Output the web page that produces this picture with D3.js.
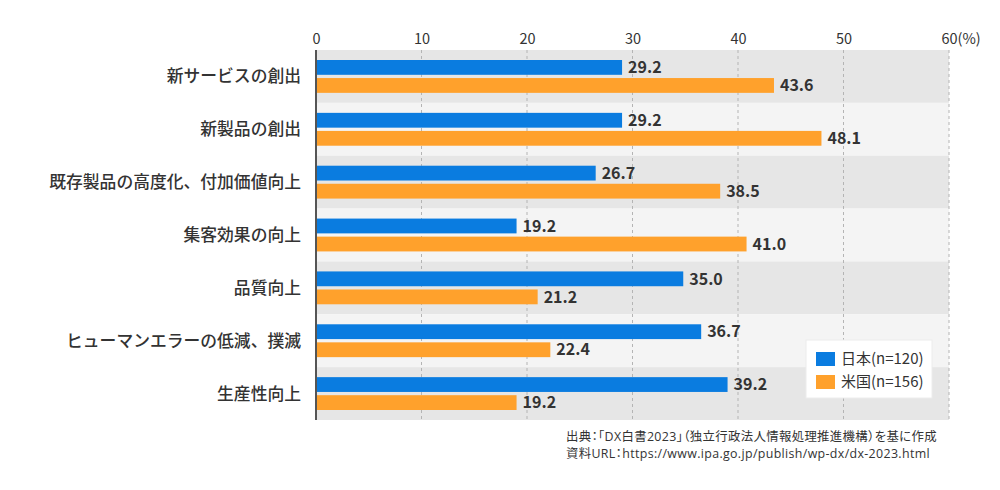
<!DOCTYPE html>
<html>
<head>
<meta charset="utf-8">
<script src="https://cdn.jsdelivr.net/npm/d3@7"></script>
<style>
  body { margin: 0; background: #fff; }
  svg { display: block; font-family: "Noto Sans CJK JP", "Noto Sans", sans-serif; }
  .src { font-feature-settings: "palt" 1; font-family: "Open Sans", "Noto Sans CJK JP", sans-serif; letter-spacing: 0.35px; }
</style>
</head>
<body>
<div id="chart"></div>
<script>
const categories = [
  '新サービスの創出',
  '新製品の創出',
  '既存製品の高度化、付加価値向上',
  '集客効果の向上',
  '品質向上',
  'ヒューマンエラーの低減、撲滅',
  '生産性向上',
];
const seriesNames = ['日本(n=120)', '米国(n=156)'];
const japan = [29.2, 29.2, 26.7, 19.2, 35.0, 36.7, 39.2];
const usa = [43.6, 48.1, 38.5, 41.0, 21.2, 22.4, 19.2];
const xTicks = [0, 10, 20, 30, 40, 50, 60];
const sourceLines = [
  '出典：「DX白書2023」（独立行政法人情報処理推進機構）を基に作成',
  '資料URL：https://www.ipa.go.jp/publish/wp-dx/dx-2023.html',
];

const width = 1000;
const height = 490;
const margin = { top: 50, right: 51, bottom: 70, left: 316 };
const colors = ['#0a7ce0', '#ffa12c'];

const svg = d3.select('#chart')
  .append('svg')
  .attr('width', width)
  .attr('height', height);

const g = svg.append('g')
  .attr('transform', `translate(${margin.left},${margin.top})`);

const innerW = width - margin.left - margin.right;
const innerH = height - margin.top - margin.bottom;

const x = d3.scaleLinear().domain([0, 60]).range([0, innerW]);
const y = d3.scaleBand().domain(categories).range([0, innerH]).padding(0);
const ySub = d3.scaleBand()
  .domain(d3.range(seriesNames.length))
  .range([10, y.bandwidth() - 10])
  .paddingInner(0.18);

// row backgrounds
g.selectAll('rect.row')
  .data(categories)
  .enter()
  .append('rect')
  .attr('class', 'row')
  .attr('x', 0)
  .attr('y', (d) => y(d))
  .attr('width', innerW)
  .attr('height', y.bandwidth())
  .attr('fill', (d, i) => (i % 2 === 0 ? '#e6e6e6' : '#f4f4f4'));

// grid
g.selectAll('line.grid')
  .data(xTicks.slice(1))
  .enter()
  .append('line')
  .attr('x1', (d) => x(d))
  .attr('x2', (d) => x(d))
  .attr('y1', 0)
  .attr('y2', innerH)
  .attr('stroke', '#b4b4b4')
  .attr('stroke-width', 1)
  .attr('stroke-dasharray', '3,3');

// top axis
const axis = g.append('g')
  .call(d3.axisTop(x).tickValues(xTicks).tickSize(0).tickPadding(0));
axis.select('.domain').remove();
axis.selectAll('text')
  .attr('y', -6)
  .attr('font-size', 14.5)
  .attr('fill', '#333')
  .attr('font-family', '"Noto Sans CJK JP", sans-serif');

const lastTick = axis.selectAll('.tick').filter((d) => d === 60);
const lastW = lastTick.select('text').node().getComputedTextLength();
lastTick.append('text')
  .attr('x', lastW / 2)
  .attr('y', -6)
  .attr('text-anchor', 'start')
  .attr('font-size', 14.5)
  .attr('fill', '#333')
  .attr('font-family', '"Noto Sans CJK JP", sans-serif')
  .text('(%)');

// bars
const rows = categories.map((c, i) => ({ cat: c, values: [japan[i], usa[i]] }));
const rowG = g.selectAll('g.bars')
  .data(rows)
  .enter()
  .append('g')
  .attr('transform', (d) => `translate(0,${y(d.cat)})`);

rowG.selectAll('rect')
  .data((d) => d.values.map((v, k) => ({ v, k })))
  .enter()
  .append('rect')
  .attr('x', 0)
  .attr('y', (d) => ySub(d.k))
  .attr('width', (d) => x(d.v) - 2)
  .attr('height', ySub.bandwidth())
  .attr('fill', (d) => colors[d.k]);

rowG.selectAll('text')
  .data((d) => d.values.map((v, k) => ({ v, k })))
  .enter()
  .append('text')
  .attr('x', (d) => x(d.v) + 4)
  .attr('y', (d) => ySub(d.k) + ySub.bandwidth() / 2)
  .attr('dy', '0.36em')
  .attr('font-size', 16)
  .attr('font-weight', 'bold')
  .attr('fill', '#333')
  .text((d) => d.v.toFixed(1));

// axis line
g.append('line')
  .attr('x1', 0)
  .attr('x2', 0)
  .attr('y1', 0)
  .attr('y2', innerH)
  .attr('stroke', '#555')
  .attr('stroke-width', 2);

// category labels
g.selectAll('text.cat')
  .data(categories)
  .enter()
  .append('text')
  .attr('class', 'cat')
  .attr('x', -15)
  .attr('y', (d) => y(d) + y.bandwidth() / 2)
  .attr('dy', '0.36em')
  .attr('text-anchor', 'end')
  .attr('font-size', 16.8)
  .attr('font-weight', 500)
  .attr('fill', '#333')
  .text((d) => d);

// legend
const legend = svg.append('g').attr('transform', 'translate(806,340)');
legend.append('rect')
  .attr('width', 126)
  .attr('height', 58)
  .attr('fill', '#fff')
  .attr('stroke', '#ececec');
seriesNames.forEach((name, k) => {
  legend.append('rect')
    .attr('x', 10)
    .attr('y', 12 + k * 23)
    .attr('width', 19)
    .attr('height', 14)
    .attr('fill', colors[k]);
  legend.append('text')
    .attr('x', 35)
    .attr('y', 19 + k * 23)
    .attr('dy', '0.36em')
    .attr('font-size', 15)
    .attr('fill', '#333')
    .text(name);
});

// source
svg.selectAll('text.src')
  .data(sourceLines)
  .enter()
  .append('text')
  .attr('class', 'src')
  .attr('x', 566)
  .attr('y', (d, i) => 437 + i * 17)
  .attr('dy', '0.36em')
  .attr('font-size', 12.4)
  .attr('fill', '#333')
  .text((d) => d);
</script>
</body>
</html>
